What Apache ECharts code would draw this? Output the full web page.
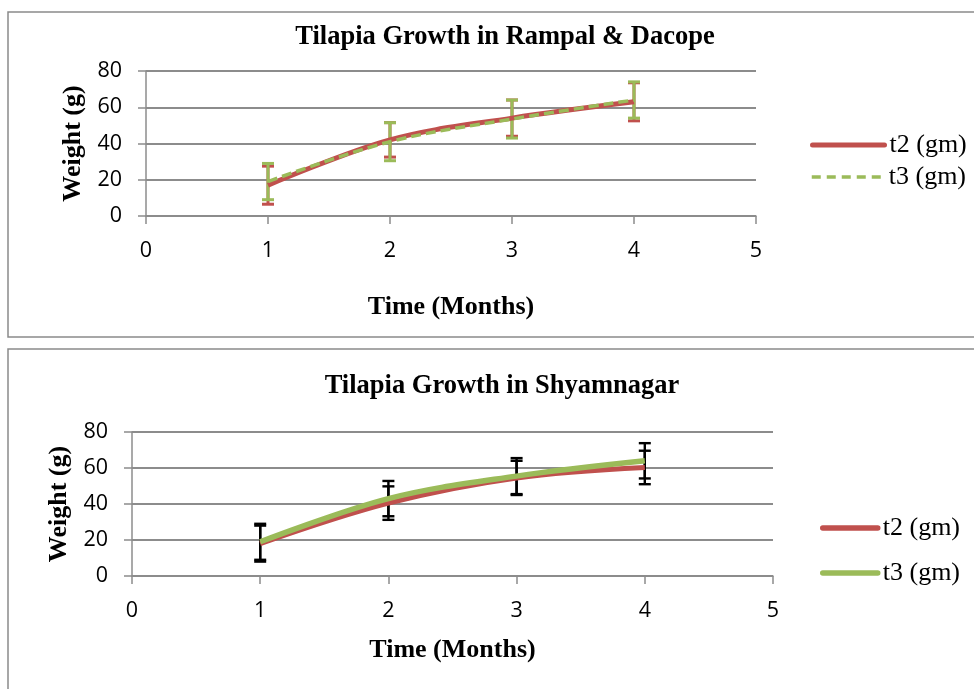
<!DOCTYPE html>
<html><head><meta charset="utf-8">
<script src="https://cdn.jsdelivr.net/npm/echarts@6/dist/echarts.min.js"></script>
<style>html,body{margin:0;padding:0;background:#fff}#c{width:974px;height:689px}</style>
</head><body><div id="c"></div>
<script>
const months = [1, 2, 3, 4];
const seriesNames = ['t2 (gm)', 't3 (gm)'];
const titles = ['Tilapia Growth in Rampal & Dacope', 'Tilapia Growth in Shyamnagar'];
const xAxisTitle = 'Time (Months)';
const yAxisTitle = 'Weight (g)';
const rampalT2 = [17, 42, 54, 63];
const rampalT3 = [19, 41, 53.5, 64];
const rampalErrT2 = [10.5, 9.5, 10, 10.5];
const rampalErrT3 = [10, 10.5, 10.5, 10];
const shyamT2 = [18, 40.5, 54.5, 60.3];
const shyamT3 = [19, 43, 55.5, 64];
const shyamErrT2 = [10, 9.3, 9.5, 9.3];
const shyamErrT3 = [10, 9.8, 10, 9.8];

const RED = '#C0504D', GREEN = '#9BBB59', GRID = '#8c8c8c';
const SERIF = 'Liberation Serif';
const NUM = "'Open Sans', 'Liberation Sans', sans-serif";

function errSeries(id, idx, vals, errs, color, width, capHalf) {
  return {
    type: 'custom', name: id, xAxisIndex: idx, yAxisIndex: idx, silent: true,
    data: months.map((m, i) => [m, vals[i] - errs[i], vals[i] + errs[i]]),
    encode: { x: 0, y: [1, 2] },
    renderItem(params, api) {
      const x = api.value(0);
      const lo = api.coord([x, api.value(1)]);
      const hi = api.coord([x, api.value(2)]);
      const style = { stroke: color, lineWidth: width };
      return { type: 'group', children: [
        { type: 'line', shape: { x1: lo[0], y1: lo[1], x2: hi[0], y2: hi[1] }, style },
        { type: 'line', shape: { x1: lo[0] - capHalf, y1: lo[1], x2: lo[0] + capHalf, y2: lo[1] }, style },
        { type: 'line', shape: { x1: hi[0] - capHalf, y1: hi[1], x2: hi[0] + capHalf, y2: hi[1] }, style }
      ]};
    }
  };
}
function lineSeries(id, idx, vals, color, width, type) {
  return {
    type: 'line', name: id, xAxisIndex: idx, yAxisIndex: idx, smooth: 0.35,
    symbol: 'none', data: months.map((m, i) => [m, vals[i]]),
    lineStyle: { color, width, type, cap: 'butt' }, itemStyle: { color }
  };
}
function xAx(idx, gap) {
  return {
    type: 'value', gridIndex: idx, min: 0, max: 5, interval: 1,
    name: xAxisTitle, nameLocation: 'middle', nameGap: gap,
    nameTextStyle: { fontFamily: SERIF, fontWeight: 'bold', fontSize: 26, color: '#000' },
    axisLine: { show: true, lineStyle: { color: GRID, width: 1.5 } },
    axisTick: { show: true, length: 8, lineStyle: { color: GRID, width: 1.5 } },
    axisLabel: { margin: 24, fontFamily: NUM, fontSize: 21.5, color: '#000' },
    splitLine: { show: false }
  };
}
function yAx(idx, gap) {
  return {
    type: 'value', gridIndex: idx, min: 0, max: 80, interval: 20,
    name: yAxisTitle, nameLocation: 'middle', nameGap: gap, nameRotate: 90,
    nameTextStyle: { fontFamily: SERIF, fontWeight: 'bold', fontSize: 26, color: '#000' },
    axisLine: { show: true, lineStyle: { color: GRID, width: 1.5 } },
    axisTick: { show: true, length: 8, lineStyle: { color: GRID, width: 1.5 } },
    axisLabel: { margin: 24, fontFamily: NUM, fontSize: 21.5, color: '#000' },
    splitLine: { show: true, lineStyle: { color: GRID, width: 1.8 } }
  };
}
const fmt = n => n.split('|')[1];
function legendItem(name, left, centerY, width, color, lw, type) {
  return {
    left, top: centerY - 13, padding: 0, itemWidth: width, itemHeight: 12,
    data: [name], formatter: fmt, selectedMode: false,
    itemStyle: { opacity: 0 },
    lineStyle: { color, width: lw, type, cap: type === 'solid' ? 'round' : 'butt', opacity: 1 },
    textStyle: { fontFamily: SERIF, fontSize: 26, lineHeight: 26, color: '#000' }
  };
}

const chart = echarts.init(document.getElementById('c'), null, { renderer: 'canvas' });
chart.setOption({
  animation: false,
  backgroundColor: '#fff',
  title: [
    { text: titles[0], left: 500, top: 19, textAlign: 'center',
      textStyle: { fontFamily: SERIF, fontWeight: 'bold', fontSize: 26.5, color: '#000' } },
    { text: titles[1], left: 497, top: 368, textAlign: 'center',
      textStyle: { fontFamily: SERIF, fontWeight: 'bold', fontSize: 26.5, color: '#000' } }
  ],
  grid: [
    { left: 146, right: 218, top: 71, height: 145 },
    { left: 132, right: 201, top: 432, height: 144 }
  ],
  xAxis: [xAx(0, 78), xAx(1, 61)],
  yAxis: [yAx(0, 60), yAx(1, 60)],
  legend: [
    legendItem('R|' + seriesNames[0], 810, 145, 72, RED, 5, 'solid'),
    legendItem('R|' + seriesNames[1], 810, 177, 72, GREEN, 3.5, [9, 6]),
    legendItem('S|' + seriesNames[0], 820, 528, 55, RED, 5.5, 'solid'),
    legendItem('S|' + seriesNames[1], 820, 573, 55, GREEN, 5.5, 'solid')
  ],
  graphic: [
    { type: 'rect', shape: { x: 8, y: 12, width: 990, height: 325 }, style: { fill: 'none', stroke: '#8a8a8a', lineWidth: 1.5 }, z: -1 },
    { type: 'rect', shape: { x: 8, y: 349, width: 990, height: 360 }, style: { fill: 'none', stroke: '#8a8a8a', lineWidth: 1.5 }, z: -1 }
  ],
  series: [
    lineSeries('R|' + seriesNames[0], 0, rampalT2, RED, 5, 'solid'),
    errSeries('R|e2', 0, rampalT2, rampalErrT2, RED, 3, 6),
    lineSeries('R|' + seriesNames[1], 0, rampalT3, GREEN, 3.5, [10, 5]),
    errSeries('R|e3', 0, rampalT3, rampalErrT3, GREEN, 3, 6),
    lineSeries('S|' + seriesNames[0], 1, shyamT2, RED, 5, 'solid'),
    errSeries('S|e2', 1, shyamT2, shyamErrT2, '#000', 2.4, 6),
    lineSeries('S|' + seriesNames[1], 1, shyamT3, GREEN, 5.5, 'solid'),
    errSeries('S|e3', 1, shyamT3, shyamErrT3, '#000', 2.4, 6)
  ]
});
</script></body></html>
